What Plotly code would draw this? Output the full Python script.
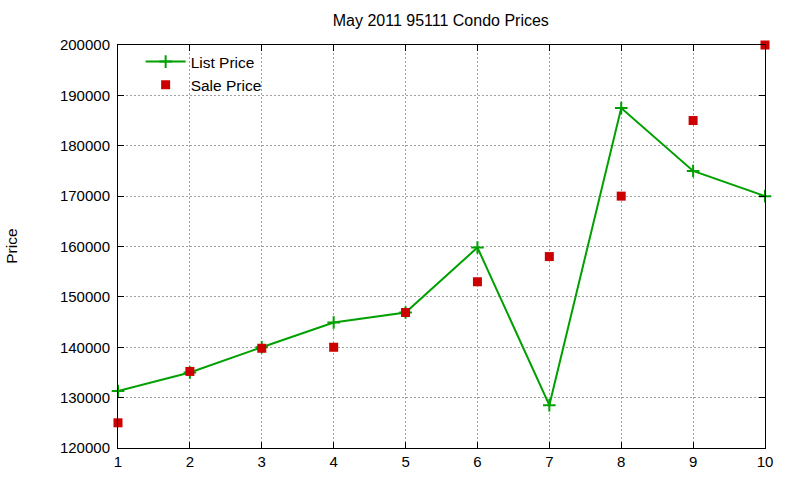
import plotly.graph_objects as go

months = [1, 2, 3, 4, 5, 6, 7, 8, 9, 10]
list_price = [131300, 135000, 140000, 144900, 146900, 159800, 128500, 187500, 175000, 170000]
sale_price = [125000, 135200, 139800, 140000, 146900, 153000, 158000, 170000, 185000, 200000]
y_ticks = [120000, 130000, 140000, 150000, 160000, 170000, 180000, 190000, 200000]

fam = "Liberation Sans, Arial, sans-serif"
font = dict(family=fam, size=15, color="#000000")

fig = go.Figure()
fig.add_trace(go.Scatter(
    x=months, y=list_price, name="List Price", mode="lines+markers", cliponaxis=False,
    line=dict(color="#00a000", width=2),
    marker=dict(symbol="cross-thin", size=9, line=dict(color="#00a000", width=2), color="#00a000"),
))
fig.add_trace(go.Scatter(
    x=months, y=sale_price, name="Sale Price", mode="markers", cliponaxis=False,
    marker=dict(symbol="square", size=9, color="#cc0000"),
))

axis_common = dict(
    showline=True, linecolor="#000000", linewidth=1, mirror="ticks",
    ticks="inside", ticklen=6, tickcolor="#000000",
    showgrid=True, gridcolor="#a0a0a0", griddash="2px,2px", gridwidth=1,
    zeroline=False, tickfont=font, automargin=False,
)
fig.update_xaxes(range=[1, 10], tickvals=months, ticklabelstandoff=0, **axis_common)
fig.update_yaxes(range=[120000, 200000], tickvals=y_ticks, tickformat="d", ticklabelstandoff=4, **axis_common)

fig.update_layout(
    width=800, height=480,
    margin=dict(l=118, r=35, t=45, b=32),
    paper_bgcolor="white", plot_bgcolor="white",
    font=font,
    title=dict(text="May 2011 95111 Condo Prices", x=0.551, xanchor="center", y=0.958, yanchor="middle",
               font=dict(family=fam, size=16, color="#000000")),
    showlegend=True,
    legend=dict(x=0.035, y=1.0, xanchor="left", yanchor="top", bgcolor="rgba(0,0,0,0)",
                font=dict(family=fam, size=15.5, color="#000000"), tracegroupgap=0, itemwidth=40),
    annotations=[dict(text="Price", xref="paper", yref="paper", x=-0.165, y=0.5,
                      xanchor="center", yanchor="middle", textangle=-90, showarrow=False,
                      font=dict(family=fam, size=15.5, color="#000000"))],
)

fig.write_html("out.html")
